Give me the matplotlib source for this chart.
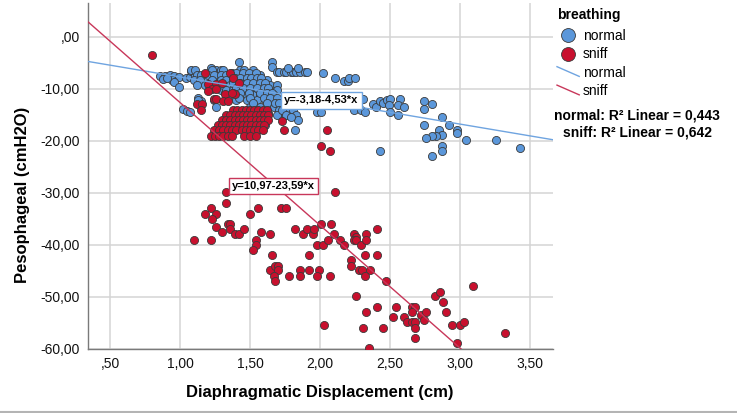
"""Scatter of oesophageal pressure vs diaphragm displacement, normal vs sniff breathing."""

import matplotlib

matplotlib.use("Agg")
import matplotlib.pyplot as plt
from matplotlib.legend_handler import HandlerBase
from matplotlib.lines import Line2D
from matplotlib.ticker import FuncFormatter

plt.rcParams["font.family"] = ["Liberation Sans", "DejaVu Sans"]

# ---- data ----
normal_x = [
    0.86, 0.89, 0.93, 0.96, 0.995, 0.88, 0.94, 0.96, 0.99, 0.91, 1.04, 1.07, 1.08, 1.11, 1.14,
    1.18, 1.22, 1.26, 1.29, 1.25, 1.13, 1.15, 1.02, 1.05, 1.07, 1.29, 1.32, 1.31, 1.345,
    1.08, 1.11, 1.23, 1.31, 1.43, 1.46, 1.52, 1.42, 1.655,
    1.12, 1.15, 1.20, 1.24, 1.29, 1.33, 1.40, 1.45, 1.49, 1.52, 1.57,
    1.10, 1.14, 1.23, 1.29, 1.33, 1.38, 1.43, 1.48, 1.52, 1.57, 1.62,
    1.12, 1.18, 1.31, 1.36, 1.40, 1.45, 1.50, 1.55, 1.60, 1.64, 1.69,
    1.33, 1.38, 1.43, 1.48, 1.52, 1.58, 1.63, 1.69,
    1.36, 1.42, 1.48, 1.52, 1.57, 1.62, 1.67,
    1.13, 1.24, 1.40, 1.48, 1.55, 1.61, 1.655, 1.70,
    1.26, 1.50, 1.57, 1.67, 1.63,
    1.37, 1.40, 1.45, 1.49, 1.54,
    1.39, 1.43, 1.48, 1.51, 1.55, 1.58,
    1.38, 1.43, 1.48, 1.52, 1.57, 1.61,
    1.40, 1.45, 1.50, 1.55, 1.60, 1.63,
    1.38, 1.43, 1.49, 1.57, 1.62, 1.655,
    1.42, 1.50, 1.60, 1.64, 1.69,
    1.52, 1.62, 1.68, 1.71,
    1.71, 1.77, 1.81, 1.69, 1.75, 1.83, 1.845, 1.61, 1.48,
    1.655, 1.69, 1.71, 1.74, 1.76, 1.79, 1.81, 1.83, 1.86, 1.89, 1.91, 1.77, 1.84,
    2.02, 2.11, 2.17, 2.20, 2.21, 2.25,
    2.31, 2.38, 2.40, 2.43, 2.45, 2.48, 2.50, 2.49, 2.57, 2.56, 2.60, 2.50, 2.56,
    2.26, 2.24, 2.29, 2.32,
    1.73, 1.76, 1.79, 1.82, 1.98, 2.01, 2.43,
    2.74, 2.74, 2.80, 2.87, 2.74, 2.92,
    2.85, 2.87, 2.83, 2.80, 2.76, 2.98, 2.98, 3.04, 2.87, 2.87, 2.80, 3.26, 3.43,
]
normal_y = [
    -7.6, -7.5, -7.3, -7.5, -7.8, -8.1, -8.3, -8.6, -9.6, -8.0, -7.9, -7.8, -6.5, -7.3, -7.8,
    -8.1, -6.0, -6.3, -6.3, -7.6, -11.8, -12.4, -13.9, -14.2, -14.4, -10.2, -10.8, -8.9, -8.9,
    -6.3, -6.3, -6.3, -6.3, -6.3, -6.3, -6.3, -4.9, -4.9,
    -7.3, -7.3, -7.3, -7.3, -7.3, -7.3, -7.3, -7.3, -7.3, -7.3, -7.3,
    -8.3, -8.3, -8.3, -8.3, -8.3, -8.3, -8.3, -8.3, -8.3, -8.3, -8.3,
    -9.2, -9.2, -9.2, -9.2, -9.2, -9.2, -9.2, -9.2, -9.2, -9.2, -9.2,
    -10.2, -10.2, -10.2, -10.2, -10.2, -10.2, -10.2, -10.2,
    -11.2, -11.2, -11.2, -11.2, -11.2, -11.2, -11.2,
    -12.1, -12.1, -12.1, -12.1, -12.1, -12.1, -12.1, -12.1,
    -13.4, -13.4, -13.4, -13.4, -14.7,
    -6.9, -6.9, -6.9, -6.9, -6.9,
    -7.9, -7.9, -7.9, -7.9, -7.9, -7.9,
    -8.9, -8.9, -8.9, -8.9, -8.9, -8.9,
    -9.9, -9.9, -9.9, -9.9, -9.9, -9.9,
    -10.8, -10.8, -10.8, -10.8, -10.8, -10.8,
    -11.8, -11.8, -11.8, -11.8, -11.8,
    -12.8, -12.8, -12.8, -12.8,
    -14.0, -14.0, -14.0, -15.0, -15.0, -15.0, -16.0, -16.9, -18.5,
    -5.8, -6.7, -6.7, -6.7, -6.7, -6.7, -6.7, -6.7, -6.7, -6.7, -6.7, -6.0, -6.0,
    -6.9, -7.9, -8.5, -8.5, -7.9, -7.9,
    -12.0, -12.9, -13.4, -12.4, -12.8, -12.2, -12.0, -13.1, -12.0, -13.1, -13.4, -14.4, -15.0,
    -12.1, -14.0, -14.0, -14.5,
    -14.0, -15.0, -15.4, -17.9, -14.4, -14.4, -21.9,
    -12.4, -13.9, -12.9, -15.4, -16.9, -16.9,
    -18.0, -18.9, -19.0, -19.0, -19.4, -17.9, -18.5, -19.9, -20.9, -22.0, -22.9, -19.9, -21.4,
]

sniff_x = [
    0.80, 1.18, 1.36, 1.38, 1.20, 1.26, 1.30, 1.23, 1.26, 1.20, 1.24, 1.26, 1.32, 1.39,
    1.31, 1.345, 1.12, 1.16, 1.15, 1.37, 1.42, 1.73, 1.74, 2.05, 2.01, 2.07,
    1.38, 1.41, 1.44, 1.47, 1.50, 1.53, 1.56, 1.59, 1.62,
    1.33, 1.36, 1.39, 1.42, 1.45, 1.48, 1.51, 1.54, 1.57, 1.60, 1.63,
    1.30, 1.33, 1.36, 1.39, 1.42, 1.45, 1.48, 1.51, 1.54, 1.57, 1.60, 1.63,
    1.27, 1.30, 1.33, 1.36, 1.39, 1.42, 1.45, 1.48, 1.51, 1.54, 1.57, 1.60,
    1.24, 1.28, 1.31, 1.34, 1.37, 1.40, 1.44, 1.47, 1.50, 1.53, 1.56, 1.59,
    1.22, 1.25, 1.28, 1.31, 1.34, 1.37, 1.46, 1.50, 1.54,
    1.33, 1.33, 1.18, 1.22, 1.26, 1.23, 1.26, 1.30, 1.34, 1.36, 1.36, 1.395, 1.42, 1.46,
    1.10, 1.22, 1.50, 1.56, 1.54, 1.54, 1.52, 1.58, 1.64, 1.66, 1.64, 1.68, 1.70, 1.70,
    1.67, 1.68, 1.72, 1.76, 1.78, 1.82, 1.88, 1.91, 1.95, 1.96, 1.92, 1.86, 1.86, 1.92,
    1.98, 2.02, 2.01, 1.99, 1.98, 2.07, 2.03, 2.11, 2.08, 2.06, 2.10, 2.14,
    2.17, 2.24, 2.26, 2.24, 2.26, 2.29, 2.33, 2.33, 2.41, 2.32, 2.41, 2.22, 2.22, 2.28,
    2.30, 2.36, 2.32, 2.47, 2.26, 2.33, 2.41, 2.31, 2.45, 2.35, 2.54, 2.52, 2.60, 2.62,
    2.66, 2.68, 2.66, 2.66, 2.68, 2.68, 2.68, 2.72, 2.76, 2.74, 2.82, 2.86, 2.88, 2.90,
    2.94, 3.00, 3.03, 2.98, 3.09, 3.32,
]
sniff_y = [
    -3.5, -7.0, -6.9, -8.0, -9.0, -9.0, -8.8, -10.1, -10.1, -10.5, -11.9, -11.9, -11.0, -11.0,
    -12.4, -12.4, -13.0, -13.0, -14.0, -10.8, -8.9, -16.2, -17.9, -17.9, -20.9, -22.0,
    -14.0, -14.0, -14.0, -14.0, -14.0, -14.0, -14.0, -14.0, -14.0,
    -15.0, -15.0, -15.0, -15.0, -15.0, -15.0, -15.0, -15.0, -15.0, -15.0, -15.0,
    -16.0, -16.0, -16.0, -16.0, -16.0, -16.0, -16.0, -16.0, -16.0, -16.0, -16.0, -16.0,
    -17.0, -17.0, -17.0, -17.0, -17.0, -17.0, -17.0, -17.0, -17.0, -17.0, -17.0, -17.0,
    -18.0, -18.0, -18.0, -18.0, -18.0, -18.0, -18.0, -18.0, -18.0, -18.0, -18.0, -18.0,
    -19.0, -19.0, -19.0, -19.0, -19.0, -19.0, -19.0, -19.0, -19.0,
    -29.9, -32.0, -34.0, -32.9, -34.0, -35.0, -36.5, -37.5, -36.0, -36.0, -37.0, -37.9, -37.9, -37.0,
    -39.0, -39.0, -34.0, -32.9, -39.0, -40.0, -41.0, -37.5, -37.9, -42.0, -44.9, -44.0, -44.0, -44.9,
    -46.0, -46.9, -32.9, -32.9, -46.0, -37.0, -37.9, -37.0, -37.9, -37.0, -42.0, -44.9, -46.0, -44.9,
    -40.0, -40.0, -36.0, -44.9, -46.0, -46.0, -55.4, -29.9, -36.0, -39.0, -37.9, -39.0,
    -40.0, -37.9, -38.4, -39.0, -39.0, -40.0, -37.9, -39.0, -37.0, -42.0, -42.0, -42.9, -44.0, -44.9,
    -44.9, -44.9, -46.0, -46.9, -49.9, -52.9, -51.9, -55.9, -55.9, -59.9, -51.9, -53.9, -53.9, -54.9,
    -51.9, -51.9, -52.9, -54.9, -54.9, -55.9, -57.9, -53.5, -52.9, -54.4, -49.9, -49.0, -51.0, -52.9,
    -55.4, -55.4, -54.9, -58.9, -47.9, -57.0,
]

# linear fits as printed on the chart: y = intercept + slope * x
normal_fit = (-3.18, -4.53)
sniff_fit = (10.97, -23.59)
r2_normal = "0,443"
r2_sniff = "0,642"

x_ticks = [0.5, 1.0, 1.5, 2.0, 2.5, 3.0, 3.5]
y_ticks = [0, -10, -20, -30, -40, -50, -60]
x_limits = (0.343, 3.665)
y_limits = (-60, 6.5)

NORMAL_COLOR = "#5B97DA"
SNIFF_COLOR = "#C8102E"
NORMAL_LINE = "#6FA4E0"
SNIFF_LINE = "#C8375A"


def spss_number(value, _pos=None):
    text = f"{value:.2f}".replace(".", ",")
    if text.startswith("0,"):
        text = text[1:]
    elif text.startswith("-0,"):
        text = "-" + text[2:]
    return text


class DiagonalLineHandler(HandlerBase):
    """Legend key drawn as a short line sloping down to the right, like SPSS."""

    def create_artists(self, legend, orig_handle, xdescent, ydescent, width, height, fontsize, trans):
        line = Line2D([-xdescent, -xdescent + width], [-ydescent + height * 1.05, -ydescent + height * 0.05],
                      color=orig_handle.get_color(), linewidth=orig_handle.get_linewidth(),
                      transform=trans)
        return [line]


def main() -> None:
    fig = plt.figure(figsize=(7.37, 4.13), dpi=100)
    ax = fig.add_axes([88 / 737, 1 - 349 / 413, 465 / 737, 346 / 413])

    ax.set_xlim(*x_limits)
    ax.set_ylim(*y_limits)
    ax.set_xticks(x_ticks)
    ax.set_yticks(y_ticks)
    ax.xaxis.set_major_formatter(FuncFormatter(spss_number))
    ax.yaxis.set_major_formatter(FuncFormatter(spss_number))
    ax.tick_params(length=0, labelsize=10, pad=6, colors="#111111")
    ax.grid(True, color="#D4D4D4", linewidth=1.1)
    ax.set_axisbelow(True)
    for side in ("top", "right"):
        ax.spines[side].set_visible(False)
    for side in ("left", "bottom"):
        ax.spines[side].set_color("#7A7A7A")
        ax.spines[side].set_linewidth(1.0)

    marker_kw = dict(s=34, edgecolors="#3A3A3A", linewidths=0.6, zorder=3, clip_on=True)
    ax.scatter(normal_x, normal_y, color=NORMAL_COLOR, **marker_kw)
    ax.scatter(sniff_x, sniff_y, color=SNIFF_COLOR, **marker_kw)

    x0, x1 = x_limits
    ax.plot([x0, x1], [normal_fit[0] + normal_fit[1] * x0, normal_fit[0] + normal_fit[1] * x1],
            color=NORMAL_LINE, linewidth=1.0, zorder=4)
    ax.plot([x0, x1], [sniff_fit[0] + sniff_fit[1] * x0, sniff_fit[0] + sniff_fit[1] * x1],
            color=SNIFF_LINE, linewidth=1.0, zorder=4)

    def fit_label(coef):
        a, b = coef
        return f"y={spss_number(a)}-{spss_number(abs(b))}*x"

    ax.text(1.745, -12.2, fit_label(normal_fit), fontsize=8, fontweight="bold",
            ha="left", va="center", zorder=5,
            bbox=dict(boxstyle="square,pad=0.3", facecolor="white", edgecolor=NORMAL_LINE, linewidth=1.0))
    ax.text(1.372, -28.7, fit_label(sniff_fit), fontsize=8, fontweight="bold",
            ha="left", va="center", zorder=5,
            bbox=dict(boxstyle="square,pad=0.3", facecolor="white", edgecolor=SNIFF_LINE, linewidth=1.0))

    ax.set_xlabel("Diaphragmatic Displacement (cm)", fontsize=12, fontweight="bold")
    ax.set_ylabel("Pesophageal (cmH2O)", fontsize=12, fontweight="bold")
    ax.xaxis.set_label_coords(0.499, -0.105)
    ax.yaxis.set_label_coords(-0.125, 0.445)

    # legend: title drawn separately so the gap below it matches the original
    fig.text(557 / 737, 1 - 15 / 413, "breathing", fontsize=10, fontweight="bold",
             ha="left", va="center")
    handles = [
        Line2D([], [], linestyle="none", marker="o", markersize=10, markerfacecolor=NORMAL_COLOR,
               markeredgecolor="#3A3A3A", markeredgewidth=0.6),
        Line2D([], [], linestyle="none", marker="o", markersize=10, markerfacecolor=SNIFF_COLOR,
               markeredgecolor="#3A3A3A", markeredgewidth=0.6),
        Line2D([], [], color=NORMAL_LINE, linewidth=1.0),
        Line2D([], [], color=SNIFF_LINE, linewidth=1.0),
    ]
    fig.legend(handles, ["normal", "sniff", "normal", "sniff"],
               handler_map={handles[2]: DiagonalLineHandler(), handles[3]: DiagonalLineHandler()},
               loc="upper left", bbox_to_anchor=(557 / 737, 1 - 29 / 413),
               frameon=False, fontsize=10, handlelength=1.6, handletextpad=0.25,
               labelspacing=0.32, borderaxespad=0, borderpad=0)

    fig.text(637 / 737, 1 - 124 / 413,
             f"normal: R² Linear = {r2_normal}\nsniff: R² Linear = {r2_sniff}",
             ha="center", va="center", fontsize=10, fontweight="bold", linespacing=1.25)

    fig.add_artist(Line2D([0, 1], [1.5 / 413, 1.5 / 413], color="#B4B4B4", linewidth=1.5))

    fig.savefig("out.png", dpi=100)


if __name__ == "__main__":
    main()
